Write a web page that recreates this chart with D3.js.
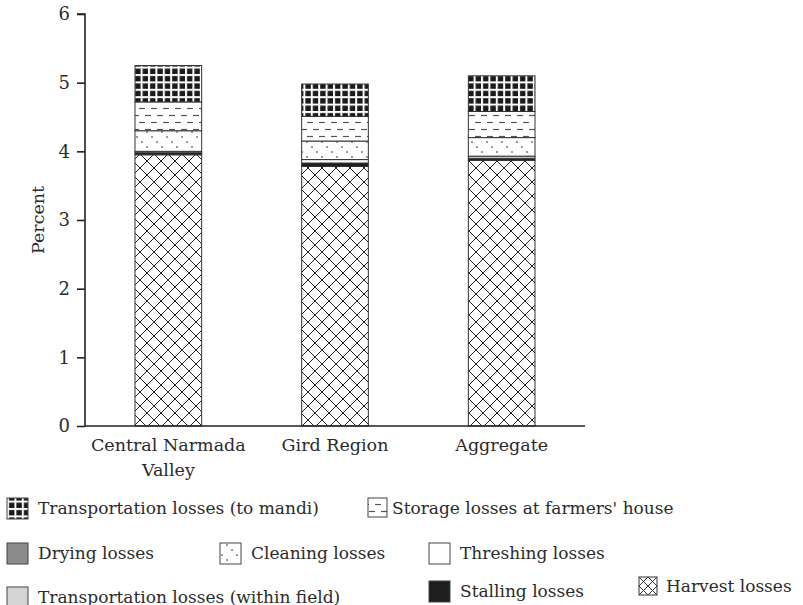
<!DOCTYPE html>
<html>
<head>
<meta charset="utf-8">
<script src="https://cdn.jsdelivr.net/npm/d3@7/dist/d3.min.js"></script>
<style>
  body { margin: 0; background: #fff; }
  svg text { font-family: "DejaVu Serif", serif; fill: #2b2b2b; }
</style>
</head>
<body>
<div class="chart_frame"></div>
<script>
// data
var regions = ["Central Narmada Valley", "Gird Region", "Aggregate"];
var harvest      = [3.95, 3.78, 3.87];
var stalling     = [0.03, 0.05, 0.03];
var transWithin  = [0.00, 0.00, 0.00];
var threshing    = [0.02, 0.05, 0.03];
var cleaning     = [0.30, 0.27, 0.27];
var drying       = [0.00, 0.00, 0.00];
var storage      = [0.42, 0.36, 0.38];
var transMandi   = [0.53, 0.47, 0.52];
var yTicks = [0, 1, 2, 3, 4, 5, 6];

// series bottom -> top
var seriesKeys = ["harvest", "stalling", "transWithin", "threshing", "cleaning", "drying", "storage", "transMandi"];
var seriesVals = {
    harvest: harvest, stalling: stalling, transWithin: transWithin, threshing: threshing,
    cleaning: cleaning, drying: drying, storage: storage, transMandi: transMandi
};
var seriesFill = {
    harvest: "url(#p_harvest)", stalling: "#1e1e1e", transWithin: "#d4d4d4", threshing: "#fff",
    cleaning: "url(#p_cleaning)", drying: "#8c8c8c", storage: "url(#p_storage)", transMandi: "url(#p_mandi)"
};

var rows = regions.map(function(r, i) {
    var o = {region: r};
    seriesKeys.forEach(function(k) { o[k] = seriesVals[k][i]; });
    return o;
});

var width = 803, height = 605;
var svg = d3.select('.chart_frame').append('svg')
    .attr('width', width).attr('height', height);

// patterns
var defs = svg.append('defs');

var pm = defs.append('pattern').attr('id', 'p_mandi')
    .attr('patternUnits', 'userSpaceOnUse').attr('width', 7.4).attr('height', 7.4);
pm.append('rect').attr('width', 7.4).attr('height', 7.4).attr('fill', '#1a1a1a');
pm.append('rect').attr('x', 0).attr('y', 0).attr('width', 2).attr('height', 7.4).attr('fill', '#fff');
pm.append('rect').attr('x', 0).attr('y', 0).attr('width', 7.4).attr('height', 2).attr('fill', '#fff');

var ps = defs.append('pattern').attr('id', 'p_storage')
    .attr('patternUnits', 'userSpaceOnUse').attr('width', 12).attr('height', 14);
ps.append('rect').attr('width', 12).attr('height', 14).attr('fill', '#fff');
ps.append('line').attr('x1', 1).attr('x2', 7).attr('y1', 3.5).attr('y2', 3.5)
    .attr('stroke', '#555').attr('stroke-width', 1.2);
ps.append('line').attr('x1', 7).attr('x2', 13).attr('y1', 10.5).attr('y2', 10.5)
    .attr('stroke', '#555').attr('stroke-width', 1.2);
ps.append('line').attr('x1', -1).attr('x2', 1).attr('y1', 10.5).attr('y2', 10.5)
    .attr('stroke', '#555').attr('stroke-width', 1.2);

var pc = defs.append('pattern').attr('id', 'p_cleaning')
    .attr('patternUnits', 'userSpaceOnUse').attr('width', 15).attr('height', 15);
pc.append('rect').attr('width', 15).attr('height', 15).attr('fill', '#fff');
[2, 7, 12].forEach(function(d) {
    pc.append('rect').attr('x', d - 0.7).attr('y', d - 0.7).attr('width', 1.4).attr('height', 1.4).attr('fill', '#333');
});

var ph = defs.append('pattern').attr('id', 'p_harvest')
    .attr('patternUnits', 'userSpaceOnUse').attr('width', 14).attr('height', 14);
ph.append('rect').attr('width', 14).attr('height', 14).attr('fill', '#fff');
ph.append('path').attr('d', 'M0,0L14,14M14,0L0,14')
    .attr('stroke', '#222').attr('stroke-width', 1);

// scales
var plot = {left: 85, right: 585, top: 14, bottom: 426};
var x = d3.scaleBand().domain(regions).range([plot.left, plot.right]).paddingInner(0.6).paddingOuter(0.3);
var y = d3.scaleLinear().domain([0, 6]).range([plot.bottom, plot.top]);

var stack = d3.stack().keys(seriesKeys)(rows);

var chart = svg.append('g').attr('class', 'chart');

stack.forEach(function(layer) {
    chart.append('g').attr('class', 'layer_' + layer.key)
        .selectAll('rect').data(layer).enter().append('rect')
        .attr('x', function(d) { return x(d.data.region); })
        .attr('width', x.bandwidth())
        .attr('y', function(d) { return y(d[1]); })
        .attr('height', function(d) { return y(d[0]) - y(d[1]); })
        .attr('fill', seriesFill[layer.key])
        .attr('stroke', '#333')
        .attr('stroke-width', function(d) { return d[1] - d[0] > 0 ? 1 : 0; });
});

// axes
var yAxis = svg.append('g').attr('transform', 'translate(' + plot.left + ',0)')
    .call(d3.axisLeft(y).tickValues(yTicks).tickSize(8).tickPadding(7).tickFormat(d3.format('d')));
yAxis.select('.domain').attr('stroke', '#222').attr('stroke-width', 1.6).attr('d', 'M-8,' + plot.top + 'H0V' + plot.bottom);
yAxis.selectAll('.tick line').attr('stroke', '#222').attr('stroke-width', 1.6);
yAxis.selectAll('text').attr('font-size', 18).style('font-family', '"DejaVu Serif", serif').attr('fill', '#2b2b2b');

var xAxis = svg.append('g').attr('transform', 'translate(0,' + plot.bottom + ')')
    .call(d3.axisBottom(x).tickSize(0).tickPadding(0).tickFormat(''));
xAxis.select('.domain').attr('stroke', '#222').attr('stroke-width', 1.6).attr('d', 'M' + plot.left + ',0H' + plot.right);

var xLabels = [["Central Narmada", "Valley"], ["Gird Region"], ["Aggregate"]];
regions.forEach(function(r, i) {
    var t = svg.append('text')
        .attr('x', x(r) + x.bandwidth() / 2)
        .attr('y', plot.bottom + 25)
        .attr('text-anchor', 'middle')
        .attr('font-size', 17.5);
    xLabels[i].forEach(function(line, j) {
        t.append('tspan').attr('x', x(r) + x.bandwidth() / 2).attr('dy', j ? 25 : 0).text(line);
    });
});

svg.append('text')
    .attr('transform', 'translate(44,' + ((plot.top + plot.bottom) / 2) + ') rotate(-90)')
    .attr('text-anchor', 'middle')
    .attr('font-size', 17.5)
    .text('Percent');

// legend
var legend = [
    {key: "transMandi", label: "Transportation losses (to mandi)", x: 7, y: 508},
    {key: "storage", label: "Storage losses at farmers' house", x: 368, y: 508},
    {key: "drying", label: "Drying losses", x: 7, y: 553},
    {key: "cleaning", label: "Cleaning losses", x: 220, y: 553},
    {key: "threshing", label: "Threshing losses", x: 429, y: 553},
    {key: "transWithin", label: "Transportation losses (within field)", x: 7, y: 597},
    {key: "stalling", label: "Stalling losses", x: 429, y: 591},
    {key: "harvest", label: "Harvest losses", x: 639, y: 586}
];
var lg = svg.append('g').attr('class', 'legend');
legend.forEach(function(d) {
    var g = lg.append('g').attr('transform', 'translate(' + d.x + ',' + d.y + ')');
    if (d.key === 'harvest') {
        g.append('rect').attr('x', 0).attr('y', -9).attr('width', 18).attr('height', 18)
            .attr('fill', '#fff').attr('stroke', '#333');
        g.append('path').attr('d', 'M0,-9L18,9M18,-9L0,9M9,-9L18,0L9,9L0,0Z')
            .attr('fill', 'none').attr('stroke', '#333').attr('stroke-width', 1);
    } else {
        g.append('rect').attr('x', 0).attr('y', -10).attr('width', d.key === 'storage' ? 19 : 21).attr('height', d.key === 'storage' ? 19 : 21)
            .attr('fill', seriesFill[d.key]).attr('stroke', '#444').attr('stroke-width', 1);
    }
    g.append('text').attr('x', d.key === 'storage' ? 24 : (d.key === 'harvest' ? 27 : 31)).attr('y', 6)
        .attr('font-size', 17).text(d.label);
});
</script>
</body>
</html>
